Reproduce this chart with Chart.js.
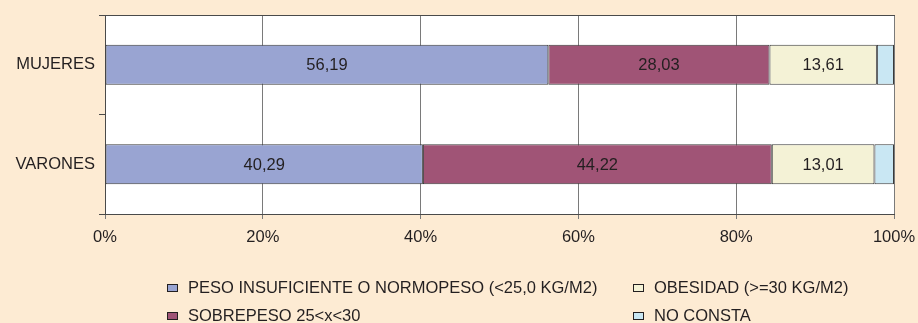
<!DOCTYPE html>
<html>
<head>
<meta charset="utf-8">
<script src="https://cdn.jsdelivr.net/npm/chart.js@4"></script>
<style>
  html, body { margin:0; padding:0; background:#FDEBD3; }
  #wrap { position:relative; width:918px; height:323px; overflow:hidden; }
  canvas { position:absolute; left:0; top:0; }
  .lg { position:absolute; font-family:"Liberation Sans", Arial, sans-serif; font-size:16.5px; color:#231f20; white-space:nowrap; line-height:18px; height:18px; }
  .lg span.box { display:inline-block; width:9px; height:6px; border:1px solid #231f20; margin-right:10px; vertical-align:1px; }
</style>
</head>
<body>
<div id="wrap"><canvas id="c" width="918" height="323"></canvas></div>
<script>
const categories = ["MUJERES", "VARONES"];
const seriesNames = ["PESO INSUFICIENTE O NORMOPESO (<25,0 KG/M2)", "SOBREPESO 25<x<30", "OBESIDAD (>=30 KG/M2)", "NO CONSTA"];
const pesoNormal = [56.19, 40.29];
const sobrepeso = [28.03, 44.22];
const obesidad = [13.61, 13.01];
const noConsta = [2.17, 2.48];
const showLabel = [true, true, true, false];
const xTicks = ["0%", "20%", "40%", "60%", "80%", "100%"];
const colors = ["#99A4D2", "#A05476", "#F4F2D6", "#C9E7F3"];

const seriesValues = [pesoNormal, sobrepeso, obesidad, noConsta];
const font = { family: "'Liberation Sans', Arial, sans-serif", size: 16.5 };

const bgPlugin = {
  id: 'bg',
  beforeDraw(chart) {
    const a = chart.chartArea, ctx = chart.ctx;
    ctx.save();
    ctx.fillStyle = '#ffffff';
    ctx.fillRect(a.left, a.top, a.right - a.left, a.bottom - a.top);
    ctx.restore();
  }
};
const labelPlugin = {
  id: 'vals',
  afterDatasetsDraw(chart) {
    const ctx = chart.ctx;
    ctx.save();
    ctx.font = "16.5px 'Liberation Sans', Arial, sans-serif";
    ctx.fillStyle = '#231f20';
    ctx.textAlign = 'center';
    ctx.textBaseline = 'middle';
    chart.data.datasets.forEach((ds, i) => {
      if (!showLabel[i]) return;
      chart.getDatasetMeta(i).data.forEach((bar, j) => {
        const cx = (bar.x + bar.base) / 2;
        ctx.fillText(ds.data[j].toFixed(2).replace('.', ','), cx, bar.y + 1);
      });
    });
    ctx.restore();
  }
};

const chart = new Chart(document.getElementById('c'), {
  type: 'bar',
  data: {
    labels: categories,
    datasets: seriesNames.map((n, i) => ({
      label: n,
      data: seriesValues[i],
      backgroundColor: colors[i],
      borderColor: '#3a3a3a',
      borderWidth: 1,
      borderSkipped: false,
      barPercentage: 0.4,
      categoryPercentage: 1.0
    }))
  },
  options: {
    indexAxis: 'y',
    responsive: false,
    animation: false,
    layout: { padding: { left: 0, top: 15, right: 24, bottom: 79 } },
    plugins: { legend: { display: false }, tooltip: { enabled: false } },
    scales: {
      x: {
        stacked: true, min: 0, max: 100,
        ticks: { stepSize: 20, padding: 9, color: '#231f20', font: font,
          callback: (v, i) => xTicks[i] },
        grid: { color: '#7a7a7a', lineWidth: 1, tickLength: 5, drawOnChartArea: true },
        border: { color: '#4a4a4a', width: 1 },
        afterFit(s) { s.height = 30; s.paddingRight = 0; s.paddingLeft = 0; }
      },
      x2: {
        position: 'top', min: 0, max: 100, display: true,
        ticks: { display: false },
        grid: { display: false },
        border: { display: true, color: '#4a4a4a', width: 1 },
        afterFit(s) { s.height = 0; s.paddingRight = 0; s.paddingLeft = 0; }
      },
      y: {
        stacked: true,
        ticks: { padding: 4, color: '#231f20', font: font },
        grid: { offset: true, drawOnChartArea: false, tickLength: 6, color: '#4a4a4a' },
        border: { color: '#4a4a4a', width: 1 },
        afterFit(s) { s.width = 105; s.paddingTop = 0; s.paddingBottom = 0; }
      }
    }
  },
  plugins: [bgPlugin, labelPlugin]
});

// legend (two columns, column-major order)
const wrap = document.getElementById('wrap');
const pos = [[167, 278], [167, 306], [633, 278], [633, 306]];
chart.data.datasets.forEach((ds, i) => {
  const d = document.createElement('div');
  d.className = 'lg';
  d.style.left = pos[i][0] + 'px';
  d.style.top = pos[i][1] + 'px';
  const b = document.createElement('span');
  b.className = 'box';
  b.style.background = ds.backgroundColor;
  d.appendChild(b);
  d.appendChild(document.createTextNode(ds.label));
  wrap.appendChild(d);
});
</script>
</body>
</html>
